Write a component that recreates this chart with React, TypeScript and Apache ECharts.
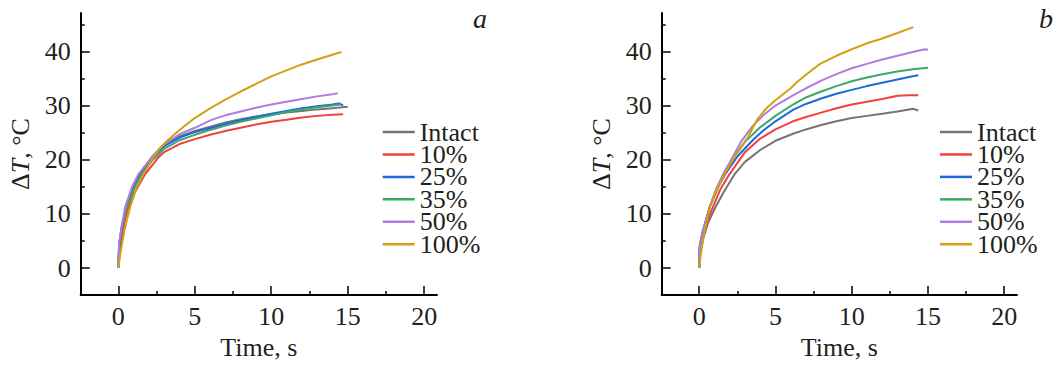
import React, { useEffect, useRef } from "react";
import * as echarts from "echarts";

// ---- Data (time s, ΔT °C) ----
const seriesNames = ["Intact", "10%", "25%", "35%", "50%", "100%"];
const seriesColors = ["#747474", "#f2403f", "#1d68dd", "#39a86a", "#ae7ce2", "#d4a011"];

const aIntact = [[0,0],[0.05,4],[0.2,7.2],[0.5,11.2],[1,15],[1.5,17.8],[2.2,20.5],[3,22.8],[4,24.3],[5,25.3],[6.13,26.2],[7,26.9],[8,27.5],[9,28],[10,28.4],[11,28.7],[12,29],[13,29.3],[14,29.5],[15,29.8]];
const a10 = [[0,0],[0.05,2],[0.2,5],[0.4,8.5],[0.68,11.4],[1,13.6],[1.77,17.4],[2.64,20.5],[3,21.4],[4,22.9],[5,23.8],[6.13,24.7],[7,25.3],[8,25.9],[9,26.5],[10,27],[11,27.4],[12,27.8],[13,28.1],[14,28.3],[14.7,28.4]];
const a25 = [[0,0],[0.05,3.5],[0.2,7],[0.5,11],[1,14.7],[1.5,17.5],[2.2,20.3],[3,22.5],[4,24.1],[5,25.1],[6.13,25.9],[7,26.6],[8,27.3],[9,27.9],[10,28.5],[11,29],[12,29.5],[13,29.9],[14,30.2],[14.45,30.4],[14.7,30]];
const a35 = [[0,0],[0.05,4.5],[0.2,7],[0.5,10.8],[1,14.4],[1.5,17.2],[2.2,19.8],[3,22],[4,23.6],[5,24.6],[6.13,25.6],[7,26.3],[8,27],[9,27.6],[10,28.2],[11,28.8],[12,29.3],[13,29.7],[14,30],[14.5,30.2]];
const a50 = [[0,0],[0.05,4.5],[0.2,7.5],[0.46,11.4],[0.9,15],[1.33,17.4],[2.2,20.5],[3,22.9],[4,24.7],[5,25.9],[6.13,27.4],[7,28.2],[8,28.9],[9,29.6],[10,30.2],[11,30.7],[12,31.2],[13,31.7],[14,32.1],[14.35,32.3]];
const a100 = [[0,0],[0.15,3],[0.4,7],[0.79,11.4],[1.2,14.8],[1.66,17.4],[2.2,20],[2.7,22],[3.19,23.5],[4,25.5],[5,27.7],[6,29.5],[7,31.1],[8,32.6],[9,34],[10,35.4],[11,36.5],[12,37.6],[13,38.5],[14,39.4],[14.6,39.9]];

const bIntact = [[0,0],[0.03,2.5],[0.25,5.3],[0.6,8.5],[1.1,11.4],[1.6,14],[2.34,17.4],[3,19.6],[4,21.8],[5,23.5],[6.15,24.8],[7,25.6],[8,26.4],[9,27.1],[10,27.7],[11,28.1],[12,28.5],[13,28.9],[14.04,29.4],[14.37,29.1]];
const b10 = [[0,0],[0.03,3],[0.2,5.5],[0.5,8.5],[0.92,11.4],[1.4,14.6],[2,17.4],[3,21.4],[4,23.9],[5,25.6],[6.15,27.1],[7,27.9],[8,28.7],[9,29.5],[10,30.2],[11,30.7],[12,31.2],[13,31.8],[13.8,31.9],[14.37,31.9]];
const b25 = [[0,0],[0.02,4],[0.2,6.5],[0.7,11.4],[1.2,14.8],[1.72,17.4],[2.5,20.6],[3.54,23.7],[4.2,25.4],[5,27.1],[6.15,29.2],[7,30.3],[8,31.3],[9,32.2],[10,32.9],[11,33.6],[12,34.2],[13,34.8],[14,35.4],[14.37,35.6]];
const b35 = [[0,0],[0.02,3.5],[0.2,6.3],[0.72,11.4],[1.2,14.6],[1.63,17.4],[2.3,20.5],[3,23.3],[4,26],[5,28.1],[6.15,30.2],[7,31.5],[8,32.6],[9,33.6],[10,34.5],[11,35.2],[12,35.8],[13,36.3],[14,36.7],[15,37]];
const b50 = [[0,0],[0.02,3.5],[0.2,6.5],[0.7,11.4],[1.1,14.5],[1.58,17.4],[2.2,20.5],[2.78,23.5],[3.5,26.2],[4.2,28.2],[5,30],[6.15,31.9],[7,33.2],[8,34.6],[9,35.8],[10,36.9],[11,37.7],[12,38.5],[13,39.2],[14,39.9],[14.8,40.4],[15,40.3]];
const b100 = [[0,0],[0.1,2.5],[0.3,6],[0.7,11.4],[1.2,14.8],[1.68,17.4],[2.4,21],[3.2,24.2],[3.8,27.4],[4.4,29.5],[5,31],[6,33.2],[6.4,34.3],[7,35.7],[7.92,37.7],[9,39.2],[10,40.4],[11,41.5],[12,42.4],[13,43.4],[14.04,44.5]];

const panelA = [aIntact, a10, a25, a35, a50, a100];
const panelB = [bIntact, b10, b25, b35, b50, b100];

const xMajor = [0, 5, 10, 15, 20];
const xMinor = [2.5, 7.5, 12.5, 17.5];
const yMajor = [0, 10, 20, 30, 40];
const yMinor = [5, 15, 25, 35, 45];
const panelLabels = ["a", "b"];

const FONT = "'Liberation Serif', 'Times New Roman', serif";
const TXT = "#231f20";

export default function App() {
  const ref = useRef<HTMLDivElement>(null);
  useEffect(() => {
    if (!ref.current) return;
    const chart = echarts.init(ref.current, null, { renderer: "svg" });
    const grids = [
      { left: 80.7, top: 13, width: 356.3, height: 287 },
      { left: 661.7, top: 13, width: 355.3, height: 287 },
    ];
    const xAxes: any[] = [];
    const yAxes: any[] = [];
    grids.forEach((_, gi) => {
      const xBase = { type: "value", gridIndex: gi, position: "bottom", min: -2.46, max: 20.84, splitLine: { show: false } };
      const yBase = { type: "value", gridIndex: gi, position: "left", min: -5, max: 47.1, splitLine: { show: false } };
      xAxes.push({
        ...xBase,
        name: "Time, s",
        nameLocation: "middle",
        nameGap: 35,
        nameTextStyle: { fontFamily: FONT, fontSize: 26, color: TXT },
        axisLine: { show: true, onZero: false, lineStyle: { color: "#000", width: 2 } },
        axisTick: { show: true, inside: true, length: 9, customValues: xMajor, lineStyle: { color: "#000", width: 1.5 } },
        axisLabel: { show: true, customValues: xMajor, margin: 8, fontFamily: FONT, fontSize: 26, color: TXT },
      });
      xAxes.push({
        ...xBase,
        axisLine: { show: false, onZero: false },
        axisTick: { show: true, inside: true, length: 4, customValues: xMinor, lineStyle: { color: "#000", width: 1.5 } },
        axisLabel: { show: false },
      });
      yAxes.push({
        ...yBase,
        name: "Δ{i|T}, °C",
        nameLocation: "middle",
        nameGap: 47,
        nameRotate: 90,
        nameTextStyle: {
          fontFamily: FONT, fontSize: 26, color: TXT,
          rich: { i: { fontFamily: FONT, fontSize: 26, fontStyle: "italic", color: TXT } },
        },
        axisLine: { show: true, onZero: false, lineStyle: { color: "#000", width: 2 } },
        axisTick: { show: true, inside: true, length: 9, customValues: yMajor, lineStyle: { color: "#000", width: 1.5 } },
        axisLabel: { show: true, customValues: yMajor, margin: 10, fontFamily: FONT, fontSize: 26, color: TXT },
      });
      yAxes.push({
        ...yBase,
        axisLine: { show: false, onZero: false },
        axisTick: { show: true, inside: true, length: 4, customValues: yMinor, lineStyle: { color: "#000", width: 1.5 } },
        axisLabel: { show: false },
      });
    });

    const series: any[] = [];
    [panelA, panelB].forEach((panel, gi) => {
      panel.forEach((data, si) => {
        series.push({
          type: "line",
          name: seriesNames[si],
          xAxisIndex: gi * 2,
          yAxisIndex: gi * 2,
          data,
          symbol: "none",
          showSymbol: false,
          color: seriesColors[si],
          lineStyle: { width: 2, color: seriesColors[si] },
          z: 2 + si,
        });
      });
    });

    const legendBase = {
      orient: "vertical",
      top: 119,
      icon: "rect",
      itemWidth: 32,
      itemHeight: 2.5,
      itemGap: -3.55,
      selectedMode: false,
      data: seriesNames,
      textStyle: { fontFamily: FONT, fontSize: 26, color: TXT },
      padding: 0,
    };

    chart.setOption({
      animation: false,
      backgroundColor: "#fff",
      grid: grids,
      xAxis: xAxes,
      yAxis: yAxes,
      legend: [
        { ...legendBase, left: 382.7, itemGap: -3.55 },
        { ...legendBase, left: 940, itemGap: -3.55 },
      ],
      graphic: [
        { type: "text", left: 473, top: 4, style: { text: panelLabels[0], fontFamily: FONT, fontSize: 28, fontStyle: "italic", fill: TXT } },
        { type: "text", left: 1039, top: 4, style: { text: panelLabels[1], fontFamily: FONT, fontSize: 28, fontStyle: "italic", fill: TXT } },
      ],
      series,
    });
    return () => chart.dispose();
  }, []);
  return (
    <div
      ref={ref}
      style={{ position: "fixed", left: 0, top: 0, width: 1053, height: 365, background: "#fff" }}
    />
  );
}
